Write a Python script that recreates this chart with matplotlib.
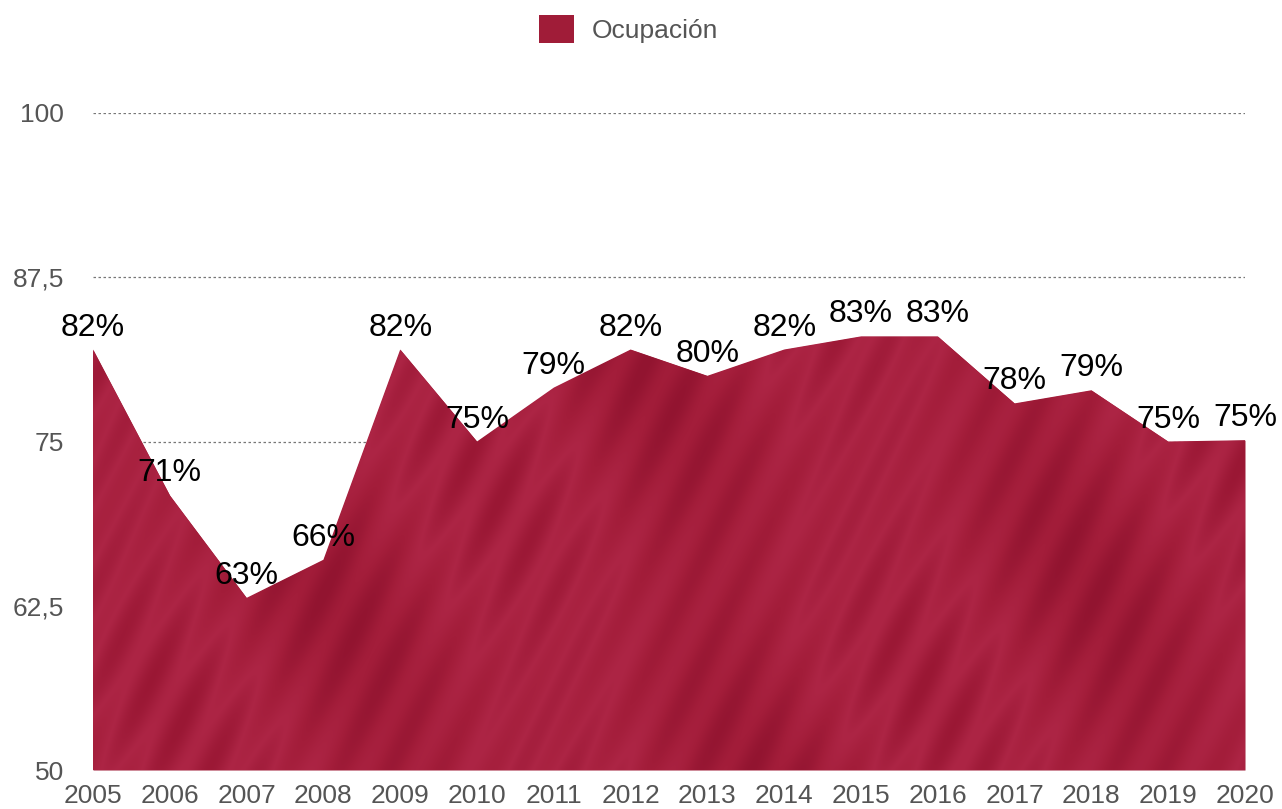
import numpy as np
import matplotlib.pyplot as plt
from matplotlib.colors import LinearSegmentedColormap
from matplotlib.patches import Patch

# data
years = [2005, 2006, 2007, 2008, 2009, 2010, 2011, 2012,
         2013, 2014, 2015, 2016, 2017, 2018, 2019, 2020]
occupancy = [82, 70.9, 63.1, 66, 82, 75, 79.1, 82,
             80, 82, 83, 83, 77.9, 78.9, 75, 75.1]
yticks = [50, 62.5, 75, 87.5, 100]
ytick_labels = ['50', '62,5', '75', '87,5', '100']

plt.rcParams['font.family'] = ['Liberation Sans', 'DejaVu Sans']

fig = plt.figure(figsize=(12.82, 8.09), dpi=100)
ax = fig.add_axes([93 / 1282, 1 - 770 / 809, (1245 - 93) / 1282, (770 - 113) / 809])

ax.set_xlim(years[0], years[-1])
ax.set_ylim(50, 100)

# fill, with a painted-looking texture clipped to it
poly = ax.fill_between(years, 50, occupancy, color='#a01c38', lw=0, zorder=2)
cmap = LinearSegmentedColormap.from_list('paint', ['#921430', '#a31d3a', '#ad2545', '#9a1734'])
xx, yy = np.meshgrid(np.linspace(0, 1, 600), np.linspace(0, 1, 300))
tex = (0.5 + 0.2 * np.sin(xx * 19 + yy * 3) + 0.12 * np.sin(xx * 140 - yy * 40)
       + 0.08 * np.sin(xx * 9 + yy * 11))
img = ax.imshow(tex, extent=[years[0], years[-1], 50, 100], aspect='auto',
                cmap=cmap, origin='lower', zorder=3, interpolation='bicubic')
img.set_clip_path(poly.get_paths()[0], transform=ax.transData)

# value labels
for x, v in zip(years, occupancy):
    ax.annotate(f'{round(v)}%', (x, v), xytext=(0, 5), textcoords='offset points',
                ha='center', va='bottom', fontsize=23, color='black', zorder=5,
                annotation_clip=False)

# grid and axes
ax.set_yticks(yticks)
ax.set_yticklabels(ytick_labels)
ax.set_xticks(years)
ax.set_xticklabels([str(y) for y in years])
for yv in yticks[1:]:
    ax.axhline(yv, color='#777777', lw=0.9, ls=(0, (2, 2)), zorder=1)
ax.tick_params(axis='both', length=0, labelsize=19, labelcolor='#555555')
ax.tick_params(axis='y', pad=21)
ax.tick_params(axis='x', pad=10)
for s in ax.spines.values():
    s.set_visible(False)

# legend
handle = Patch(facecolor='#a01c38', edgecolor='none', label='Ocupación')
fig.legend(handles=[handle], loc='center', bbox_to_anchor=(629 / 1282, 1 - 29 / 809),
           frameon=False, fontsize=19, labelcolor='#555555',
           handlelength=1.3, handleheight=1.3, handletextpad=0.7)

fig.savefig('out.png', dpi=100)
